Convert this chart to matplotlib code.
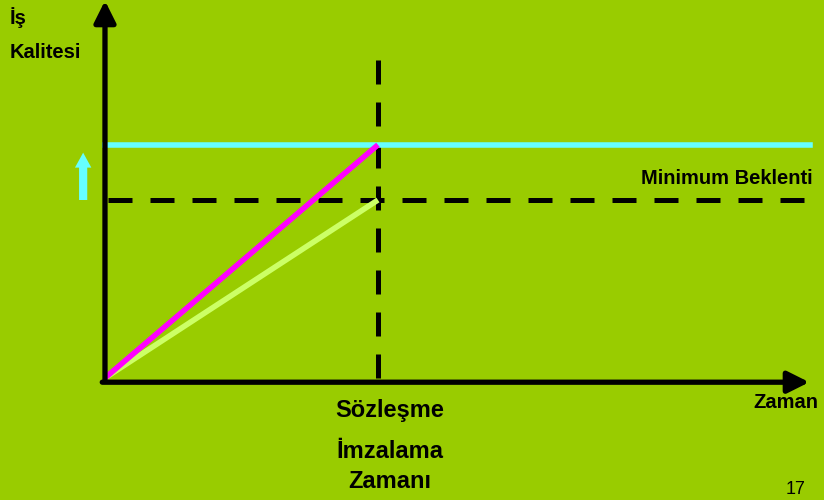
import matplotlib.pyplot as plt
from matplotlib.patches import FancyArrow

plt.rcParams['font.family'] = ['Liberation Sans', 'DejaVu Sans']

# time (x) and work quality (y) in arbitrary units
sign_time = 5.0
min_expect = 5.0
target_quality = 6.55
time_end = 12.9
quality_end = 10.6

# quality growth up to contract signing
high_x = [0, sign_time]
high_y = [0, target_quality]
low_x = [0, sign_time]
low_y = [0, min_expect]

bg = '#99CC00'
fig = plt.figure(figsize=(8.24, 5), dpi=100, facecolor=bg)
ax = fig.add_axes([0, 0, 1, 1])
ax.set_facecolor(bg)
ax.set_xlim(-1.923, 13.17)
ax.set_ylim(-3.43, 10.62)
ax.axis('off')

# axes with arrow heads
head = dict(arrowstyle='-|>,head_length=1.3,head_width=0.65',
            lw=3.8, color='black', shrinkA=0, shrinkB=0)
ax.annotate('', xy=(0, quality_end), xytext=(0, -0.1), arrowprops=head)
ax.annotate('', xy=(time_end, -0.12), xytext=(-0.05, -0.12), arrowprops=head)

# minimum expectation and signing time
ax.plot([0.05, 12.85], [min_expect, min_expect], color='black', lw=3.6,
        dashes=(4.8, 3.6), solid_capstyle='butt')
ax.plot([sign_time, sign_time], [8.93, 0], color='black', lw=3.6,
        dashes=(4.8, 3.6), solid_capstyle='butt')

ax.plot([0, 12.92], [target_quality, target_quality], color='#66FFFF', lw=4)
ax.plot(low_x, low_y, color='#CCFF66', lw=4, solid_capstyle='butt')
ax.plot(high_x, high_y, color='#FF00FF', lw=4, solid_capstyle='butt')

# upward improvement arrow
ax.add_patch(FancyArrow(-0.4, 5.0, 0, 1.33, width=0.15, head_width=0.3,
                        head_length=0.42, length_includes_head=True,
                        color='#66FFFF', lw=0))

tkw = dict(fontsize=14.5, fontweight='bold', color='black')
fig.text(10 / 824, 1 - 18 / 500, 'İş', ha='left', va='center', **tkw)
fig.text(10 / 824, 1 - 53 / 500, 'Kalitesi', ha='left', va='center', **tkw)
fig.text(813 / 824, 1 - 178 / 500, 'Minimum Beklenti', ha='right', va='center', **tkw)
fig.text(786 / 824, 1 - 402 / 500, 'Zaman', ha='center', va='center', **tkw)
bkw = dict(fontsize=17, fontweight='bold', color='black', ha='center', va='center')
fig.text(390 / 824, 1 - 411 / 500, 'Sözleşme', **bkw)
fig.text(390 / 824, 1 - 452 / 500, 'İmzalama', **bkw)
fig.text(390 / 824, 1 - 481 / 500, 'Zamanı', **bkw)
fig.text(796 / 824, 1 - 498 / 500, '17', ha='center', va='bottom', fontsize=13)

fig.savefig('out.png', dpi=100, facecolor=bg)
